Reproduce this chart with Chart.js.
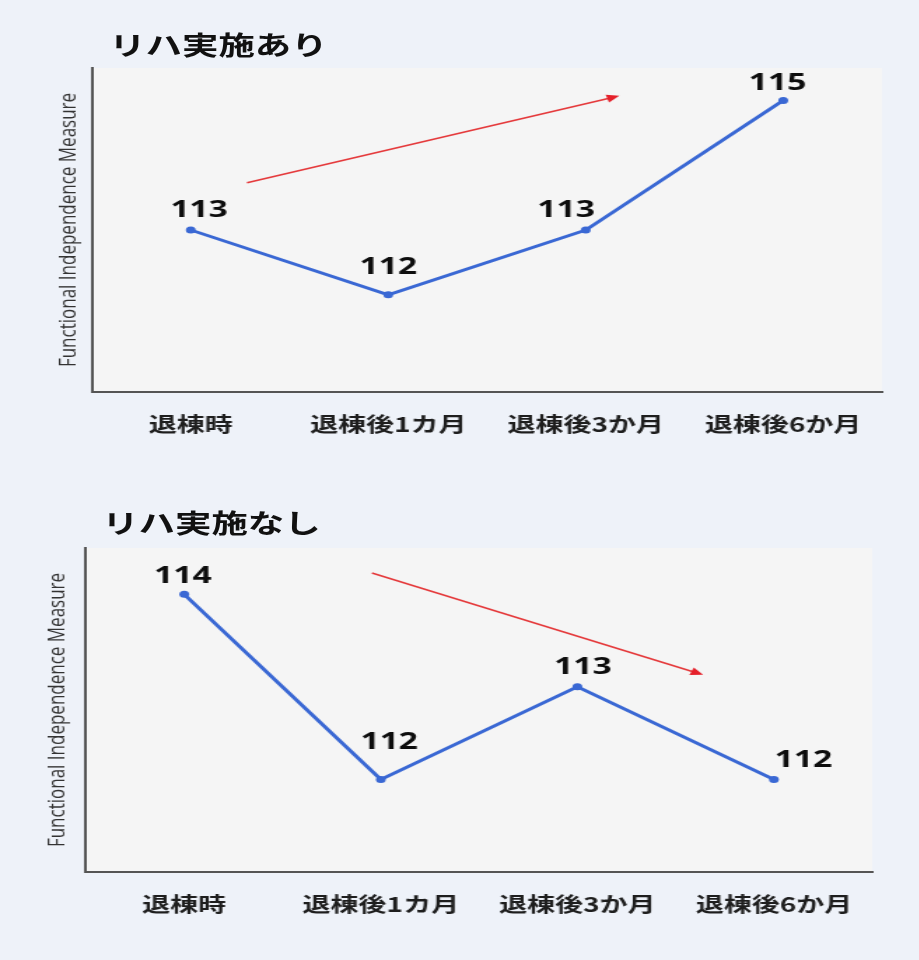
<!DOCTYPE html>
<html>
<head>
  <title>リハ実施あり / なし</title>
  <script src="https://cdn.jsdelivr.net/npm/chart.js"></script>
  <style>
    body { margin: 0; background: #eef2f9; }
    /* the original picture is stretched sideways, so draw narrow and scale */
    #wrap { position: absolute; left: 0; top: 0; width: 656px; height: 960px; transform: scaleX(1.4); transform-origin: 0 0; }
    .title { position: absolute; font: bold 26px "Noto Sans CJK JP", sans-serif; line-height: 30px; color: #111; white-space: nowrap; }
    canvas { position: absolute; left: 0; }
  </style>
</head>
<body>
  <div id="wrap">
    <div class="title" style="left:78px; top:29px;">リハ実施あり</div>
    <canvas id="chartWith" width="656" height="400" style="top:55px;"></canvas>
    <div class="title" style="left:73px; top:507px;">リハ実施なし</div>
    <canvas id="chartWithout" width="656" height="400" style="top:535px;"></canvas>
  </div>

  <script>
    // Data
    const labels = ['退棟時', '退棟後1カ月', '退棟後3か月', '退棟後6か月'];
    const withRehab = [113, 112, 113, 115];
    const withoutRehab = [114, 112, 113, 112];
    const yTitle = 'Functional Independence Measure';

    // fill the plot area grey
    const plotBackground = {
      id: 'plotBackground',
      beforeDraw(chart) {
        const { ctx, chartArea: a } = chart;
        ctx.save();
        ctx.fillStyle = '#f5f5f5';
        ctx.fillRect(a.left, a.top, a.right - a.left, a.bottom - a.top);
        ctx.restore();
      }
    };

    // value labels above the points + the red trend arrow
    const annotations = {
      id: 'annotations',
      afterDatasetsDraw(chart, args, opts) {
        const ctx = chart.ctx;
        const xs = chart.scales.x, ys = chart.scales.y;

        // arrow
        const a = opts.arrow;
        const x1 = xs.getPixelForValue(a.from[0]), y1 = ys.getPixelForValue(a.from[1]);
        const x2 = xs.getPixelForValue(a.to[0]), y2 = ys.getPixelForValue(a.to[1]);
        const ang = Math.atan2(y2 - y1, x2 - x1);
        ctx.save();
        ctx.strokeStyle = '#e5393b';
        ctx.fillStyle = '#e5202a';
        ctx.lineWidth = 1.5;
        ctx.beginPath();
        ctx.moveTo(x1, y1);
        ctx.lineTo(x2 - 6 * Math.cos(ang), y2 - 6 * Math.sin(ang));
        ctx.stroke();
        ctx.beginPath();
        ctx.moveTo(x2, y2);
        ctx.lineTo(x2 - 9 * Math.cos(ang) + 4 * Math.sin(ang), y2 - 9 * Math.sin(ang) - 4 * Math.cos(ang));
        ctx.lineTo(x2 - 9 * Math.cos(ang) - 4 * Math.sin(ang), y2 - 9 * Math.sin(ang) + 4 * Math.cos(ang));
        ctx.closePath();
        ctx.fill();

        // labels
        const meta = chart.getDatasetMeta(0);
        const values = chart.data.datasets[0].data;
        ctx.font = 'bold 24px "Noto Sans", sans-serif';
        ctx.fillStyle = '#0d0d0d';
        ctx.textAlign = 'center';
        ctx.textBaseline = 'middle';
        meta.data.forEach((pt, i) => {
          const off = opts.offsets[i];
          ctx.fillText(String(values[i]), pt.x + off[0], pt.y + off[1]);
        });
        ctx.restore();
      }
    };

    function makeChart(id, values, yMin, yMax, geo, arrow, offsets) {
      const ctx = document.getElementById(id).getContext('2d');
      return new Chart(ctx, {
        type: 'line',
        data: {
          labels: labels,
          datasets: [{
            data: values,
            borderColor: '#3a68d4',
            backgroundColor: '#3a68d4',
            borderWidth: 3,
            pointRadius: 3.5,
            pointBorderWidth: 0,
            tension: 0
          }]
        },
        options: {
          responsive: false,
          animation: false,
          devicePixelRatio: 1,
          layout: { padding: { left: 0, top: 13, right: geo.right, bottom: 0 } },
          plugins: {
            legend: { display: false },
            tooltip: { enabled: false },
            annotations: { arrow: arrow, offsets: offsets }
          },
          scales: {
            x: {
              offset: true,
              grid: { display: false, drawTicks: false },
              border: { display: true, color: '#555', width: 2 },
              ticks: { padding: 20, color: '#1e1e1e', font: { family: '"Noto Sans CJK JP", sans-serif', size: 20, weight: 'bold' } },
              afterFit: s => { s.height = 63; }
            },
            y: {
              min: yMin,
              max: yMax,
              grid: { display: false, drawTicks: false },
              border: { display: true, color: '#555', width: 2 },
              ticks: { display: false },
              title: {
                display: true,
                text: yTitle,
                color: '#333',
                padding: { top: geo.titleX, bottom: 0 },
                font: { family: '"Open Sans", sans-serif', size: 17, weight: 'normal' }
              },
              afterFit: s => { s.width = geo.left; }
            }
          }
        },
        plugins: [plotBackground, annotations]
      });
    }

    makeChart('chartWith', withRehab, 110.5, 115.5,
      { left: 65.7, right: 26, titleX: 39 },
      { from: [0.285, 113.73], to: [2.17, 115.07] },
      [[6, -20], [0, -28], [-14, -20], [-4, -17]]);

    makeChart('chartWithout', withoutRehab, 111, 114.5,
      { left: 61.4, right: 33, titleX: 30.5 },
      { from: [0.955, 114.23], to: [2.64, 113.13] },
      [[-1, -18], [6, -37], [4, -20], [21, -19]]);
  </script>
</body>
</html>
